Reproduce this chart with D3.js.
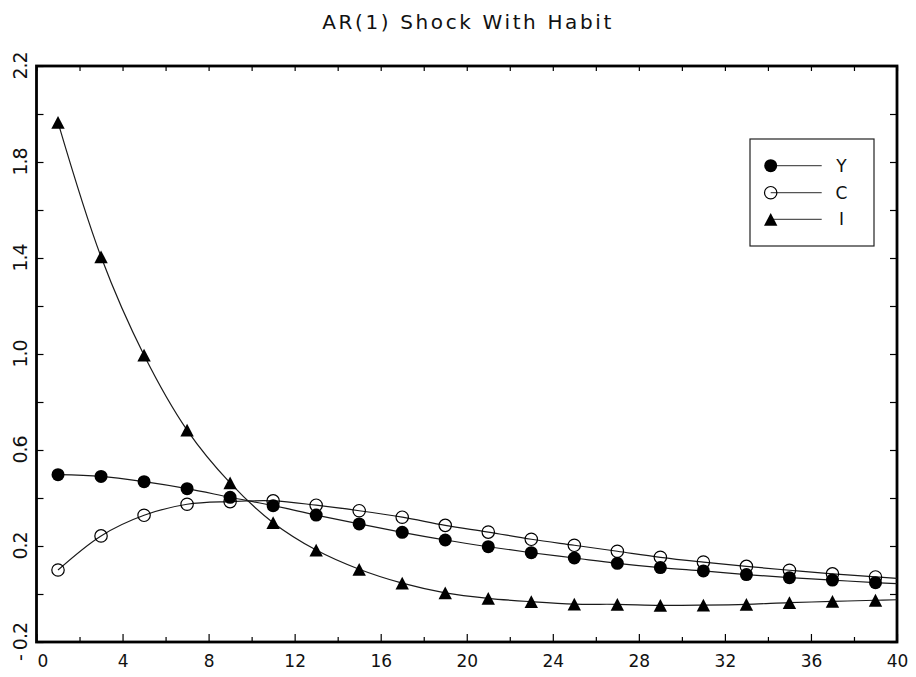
<!DOCTYPE html>
<html>
<head>
<meta charset="utf-8">
<script src="https://cdn.jsdelivr.net/npm/d3@7"></script>
<style>
  html, body { margin: 0; padding: 0; background: #fff; }
  text { font-family: "DejaVu Sans", sans-serif; fill: #111; }
</style>
</head>
<body>
<svg id="chart" width="916" height="677"></svg>
<script>
// ---- data ----
const title = "AR(1) Shock With Habit";
const xMarkers = [1,3,5,7,9,11,13,15,17,19,21,23,25,27,29,31,33,35,37,39];
const seriesY = [0.497,0.490,0.468,0.439,0.403,0.368,0.329,0.292,0.257,0.225,0.197,0.172,0.150,0.128,0.110,0.096,0.081,0.068,0.058,0.047];
const seriesC = [0.100,0.242,0.328,0.374,0.385,0.388,0.370,0.347,0.320,0.286,0.258,0.228,0.203,0.178,0.153,0.133,0.115,0.099,0.084,0.071];
const seriesI = [1.965,1.405,0.995,0.683,0.463,0.297,0.183,0.103,0.045,0.005,-0.018,-0.032,-0.042,-0.043,-0.047,-0.046,-0.043,-0.036,-0.031,-0.026];
// line end values at x = 40 (curves run to the right frame)
const xEnd = 40;
const endY = 0.043, endC = 0.065, endI = -0.024;
const seriesNames = ["Y","C","I"];
const xTickLabels = [0,4,8,12,16,20,24,28,32,36,40];
const xMinorTicks = [2,6,10,14,18,22,26,30,34,38];
const yTickLabels = [-0.2,0.2,0.6,1.0,1.4,1.8,2.2];
const yAllTicks = [-0.2,0,0.2,0.4,0.6,0.8,1.0,1.2,1.4,1.6,1.8,2.0,2.2];

// ---- layout ----
const L = 36.5, R = 897, T = 66, B = 642;
const svg = d3.select("#chart");
const x = d3.scaleLinear().domain([0,40]).range([L,R]);
const y = d3.scaleLinear().domain([-0.2,2.2]).range([B,T]);

// title
svg.append("text")
  .attr("x", (L+R)/2).attr("y", 28.7)
  .attr("text-anchor","middle")
  .attr("font-size", 20)
  .attr("textLength", 289).attr("lengthAdjust","spacing")
  .text(title);

// axes (ticks inward)
const noDomain = g => g.select(".domain").remove();
svg.append("g").attr("transform",`translate(0,${B})`)
  .call(d3.axisBottom(x).tickValues(xTickLabels).tickSize(-8).tickPadding(13).tickFormat(d3.format("d")))
  .call(noDomain)
  .call(g => g.selectAll("text").attr("font-size",17).attr("font-family","DejaVu Sans").attr("fill","#111")
    .attr("dx", (d,i) => i === 0 ? 6 : 0))
  .call(g => g.selectAll("line").attr("stroke","#000").attr("stroke-width",1.2));
svg.append("g").attr("transform",`translate(0,${B})`)
  .call(d3.axisBottom(x).tickValues(xMinorTicks).tickSize(-5).tickFormat(""))
  .call(noDomain)
  .call(g => g.selectAll("line").attr("stroke","#000").attr("stroke-width",1.2));
svg.append("g").attr("transform",`translate(0,${T})`)
  .call(d3.axisTop(x).tickValues(xTickLabels.concat(xMinorTicks)).tickSize(-5).tickFormat(""))
  .call(noDomain)
  .call(g => g.selectAll("line").attr("stroke","#000").attr("stroke-width",1.2));
svg.append("g").attr("transform",`translate(${L},0)`)
  .call(d3.axisLeft(y).tickValues(yAllTicks).tickSize(-7).tickFormat(""))
  .call(noDomain)
  .call(g => g.selectAll("line").attr("stroke","#000").attr("stroke-width",1.2));
svg.append("g").attr("transform",`translate(${R},0)`)
  .call(d3.axisRight(y).tickValues(yAllTicks).tickSize(-7).tickFormat(""))
  .call(noDomain)
  .call(g => g.selectAll("line").attr("stroke","#000").attr("stroke-width",1.2));

// rotated y labels
const fmtY = d3.format(".1f");
svg.append("g").selectAll("text").data(yTickLabels).join("text")
  .attr("transform", d => `translate(19.5,${y(d)}) rotate(-90)`)
  .attr("text-anchor","middle")
  .attr("dominant-baseline","central")
  .attr("font-size",19)
  .attr("letter-spacing", -1)
  .text(d => fmtY(d).replace("\u2212","- "));

// frame
svg.append("rect")
  .attr("x",L).attr("y",T).attr("width",R-L).attr("height",B-T)
  .attr("fill","none").attr("stroke","#000").attr("stroke-width",2.8);

// lines
const line = d3.line().x(d => x(d[0])).y(d => y(d[1])).curve(d3.curveCatmullRom.alpha(0.5));
const mk = (vals, endV) => xMarkers.map((xx,i) => [xx, vals[i]]).concat([[xEnd, endV]]);
const lineData = [mk(seriesI,endI), mk(seriesC,endC), mk(seriesY,endY)];
svg.append("g").selectAll("path").data(lineData).join("path")
  .attr("d", line).attr("fill","none").attr("stroke","#1a1a1a").attr("stroke-width",1.2);

// markers
const triPath = (w,h) => `M0,${-h/2}L${w/2},${h/2}L${-w/2},${h/2}Z`;
function drawMarker(g, type) {
  if (type === "Y") g.append("circle").attr("r",6.5).attr("fill","#000");
  else if (type === "C") g.append("circle").attr("r",6.2).attr("fill","none").attr("stroke","#000").attr("stroke-width",1.2);
  else g.append("path").attr("d", triPath(13.4,12.8)).attr("fill","#000");
}
const markerSets = [["C",seriesC],["I",seriesI],["Y",seriesY]];
markerSets.forEach(([name, vals]) => {
  svg.append("g").selectAll("g").data(xMarkers.map((xx,i)=>[xx,vals[i]])).join("g")
    .attr("transform", d => `translate(${x(d[0])},${y(d[1])})`)
    .each(function(){ drawMarker(d3.select(this), name); });
});

// legend
const lg = svg.append("g");
lg.append("rect").attr("x",750).attr("y",139).attr("width",124).attr("height",107)
  .attr("fill","#fff").attr("stroke","#222").attr("stroke-width",1.2);
const rowY = [165.7, 192.7, 219.3];
seriesNames.forEach((name,i) => {
  lg.append("line").attr("x1",770.7).attr("x2",821.7).attr("y1",rowY[i]).attr("y2",rowY[i])
    .attr("stroke","#555").attr("stroke-width",1.3);
  const m = lg.append("g").attr("transform",`translate(770.7,${rowY[i]})`);
  drawMarker(m, name);
  lg.append("text").attr("x",841.5).attr("y",rowY[i]).attr("text-anchor","middle")
    .attr("dominant-baseline","central").attr("font-size",17).text(name);
});
</script>
</body>
</html>
